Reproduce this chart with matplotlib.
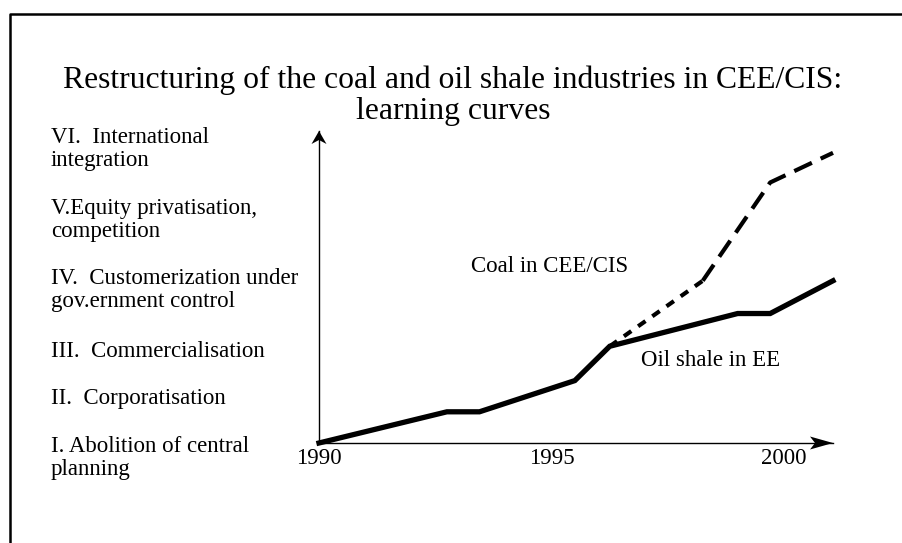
import matplotlib
matplotlib.use("Agg")
import matplotlib.pyplot as plt
from matplotlib.patches import Polygon
from matplotlib.lines import Line2D

plt.rcParams['font.family'] = ['Liberation Serif', 'DejaVu Serif']
plt.rcParams['lines.scale_dashes'] = False

# --- data (y is an unitless "restructuring stage" level) ---
title_lines = ["Restructuring of the coal and oil shale industries in CEE/CIS:",
               "learning curves"]
stage_labels = ["VI.  International\nintegration",
                "V.Equity privatisation,\ncompetition",
                "IV.  Customerization under\ngov.ernment control",
                "III.  Commercialisation",
                "II.  Corporatisation",
                "I. Abolition of central\nplanning"]
year_ticks = [1990, 1995, 2000]

oil_years = [1990, 1992.75, 1993.45, 1995.5, 1996.25, 1999.0, 1999.7, 2001.05]
oil_level = [0, 1.0, 1.0, 2.0, 3.1, 4.15, 4.15, 5.2]
coal_years = [1996.25, 1998.25, 1999.7, 2001.05]
coal_level = [3.1, 5.2, 8.35, 9.3]

oil_label = "Oil shale in EE"
coal_label = "Coal in CEE/CIS"

# --- layout in pixels (measured from top-left) ---
W, H, DPI = 903, 543, 100
AX_L, AX_R, AX_B, AX_T = 319, 833, 443, 131


def fx(x):
    return x / W


def fy(y):
    return 1 - y / H


fig = plt.figure(figsize=(W / DPI, H / DPI), dpi=DPI)
fig.patch.set_facecolor('white')

# partial frame round the slide
fig.add_artist(Line2D([fx(10), fx(10), fx(W + 5)], [fy(H + 5), fy(14), fy(14)],
                      transform=fig.transFigure, color='black', lw=1.8))

ax = fig.add_axes([fx(AX_L), fy(AX_B), (AX_R - AX_L) / W, (AX_B - AX_T) / H])
ax.set_xlim(1990, oil_years[-1])
ax.set_ylim(0, 10)
ax.set_facecolor('none')
for side in ['top', 'right']:
    ax.spines[side].set_visible(False)
for side in ['left', 'bottom']:
    ax.spines[side].set_linewidth(1.0)
ax.set_yticks([])
ax.set_xticks(year_ticks)
ax.set_xticklabels([str(y) for y in year_ticks])
ax.tick_params(axis='x', length=0, pad=3.4, labelsize=16.5)

# curves
ax.plot(oil_years, oil_level, color='black', lw=3.8, solid_joinstyle='miter',
        clip_on=False)
ax.plot(coal_years[:2], coal_level[:2], color='black', lw=3.0,
        linestyle=(0, (6.5, 6)), clip_on=False)
ax.plot(coal_years[1:], coal_level[1:], color='black', lw=3.0,
        linestyle=(0, (14, 7)), clip_on=False)

# arrow heads on the axes
yhead = [(319, 131), (311.5, 144), (319, 140), (326.5, 144)]
xhead = [(833, 443), (810, 436.5), (815, 443), (810, 449.5)]
for head in (yhead, xhead):
    fig.add_artist(Polygon([(fx(x), fy(y)) for x, y in head], closed=True,
                           transform=fig.transFigure, color='black', lw=0))

# title
for line, base in zip(title_lines, [88, 119]):
    fig.text(fx(453), fy(base), line, ha='center', va='baseline', fontsize=22.8)

# stage labels on the left
stage_base = [143, 214, 284, 357, 404, 452]
for label, base in zip(stage_labels, stage_base):
    for i, part in enumerate(label.split('\n')):
        fig.text(fx(51), fy(base + 23 * i), part, ha='left', va='baseline',
                 fontsize=16.5)

# series labels
fig.text(fx(471), fy(272), coal_label, ha='left', va='baseline', fontsize=16.5)
fig.text(fx(641), fy(366), oil_label, ha='left', va='baseline', fontsize=16.5)

fig.savefig('out.png', dpi=DPI)
